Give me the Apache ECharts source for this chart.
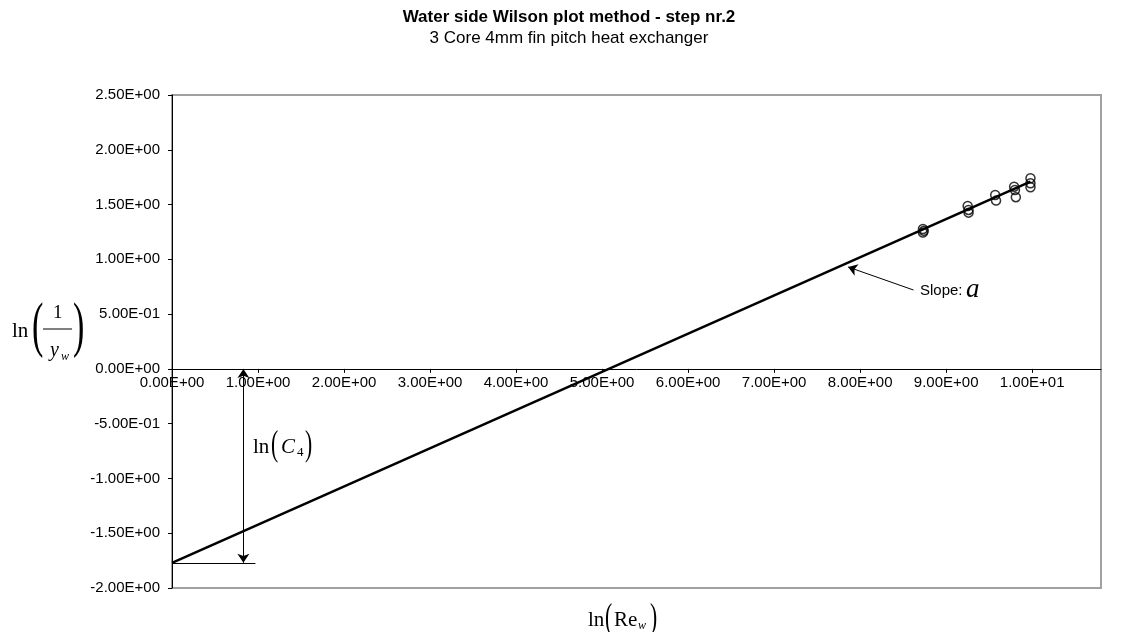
<!DOCTYPE html>
<html><head><meta charset="utf-8">
<script src="https://cdn.jsdelivr.net/npm/echarts@6/dist/echarts.min.js"></script>
<style>html,body{margin:0;padding:0;background:#fff}#c{width:1138px;height:632px}</style>
</head><body><div id="c"></div><script>
// ---- data ----
const titleText = 'Water side Wilson plot method - step nr.2';
const subtitleText = '3 Core 4mm fin pitch heat exchanger';
const xTickValues = [0, 1, 2, 3, 4, 5, 6, 7, 8, 9, 10];
const yTickValues = [-2, -1.5, -1, -0.5, 0, 0.5, 1, 1.5, 2, 2.5];
const lnRe   = [8.73, 8.73, 8.74, 9.25, 9.26, 9.26, 9.57, 9.58, 9.79, 9.80, 9.81, 9.98, 9.98, 9.98];
const lnInvY = [1.277, 1.244, 1.26, 1.487, 1.451, 1.426, 1.588, 1.536, 1.663, 1.633, 1.567, 1.74, 1.694, 1.658];
const fitX = [0, 9.98];
const fitY = [-1.77, 1.71];
const c4ArrowX = 0.83;
const c4ArrowY = [0, -1.77];
const c4BaseX = [0, 0.97];
const slopeArrowFrom = [8.62, 0.72];
const slopeArrowTo = [7.86, 0.93];

function sci(v) {
  if (Math.abs(v) < 1e-12) return '0.00E+00';
  let e = Math.floor(Math.log10(Math.abs(v)) + 1e-9);
  let ms = (v / Math.pow(10, e)).toFixed(2);
  if (Math.abs(parseFloat(ms)) >= 10) { e += 1; ms = (v / Math.pow(10, e)).toFixed(2); }
  const es = (e < 0 ? '-' : '+') + String(Math.abs(e)).padStart(2, '0');
  return ms + 'E' + es;
}
function isTick(v, arr) { return arr.some(t => Math.abs(t - v) < 1e-6); }

const chart = echarts.init(document.getElementById('c'));
const serif = "'Liberation Serif', 'Times New Roman', serif";
const sans = "'Liberation Sans', Arial, sans-serif";
function txt(text, x, y, size, opts) {
  opts = opts || {};
  return {
    type: 'text', x: x, y: y, scaleX: opts.sx || 1, scaleY: opts.sy || 1, silent: true, z: 10,
    style: {
      text: text, fill: '#000',
      font: (opts.italic ? 'italic ' : '') + size + 'px ' + (opts.family || serif),
      textAlign: 'left', textVerticalAlign: 'middle'
    }
  };
}
function line(x1, y1, x2, y2) {
  return { type: 'line', silent: true, shape: { x1: x1, y1: y1, x2: x2, y2: y2 }, style: { stroke: '#000', lineWidth: 1 } };
}

const graphics = [
  // y-axis label: ln(1/y_w)
  txt('ln', 12, 331, 21),
  txt('(', 32, 329, 62, { sx: 0.55 }),
  txt('1', 53, 313, 19),
  line(43, 329, 72, 329),
  txt('y', 50, 351, 20, { italic: true }),
  txt('w', 61, 357, 12, { italic: true }),
  txt(')', 73, 329, 62, { sx: 0.55 }),
  // x-axis label: ln(Re_w)
  txt('ln', 588, 620, 21),
  txt('(', 605, 619, 36, { sx: 0.6 }),
  txt('Re', 614, 620, 21),
  txt('w', 638, 626, 12, { italic: true }),
  txt(')', 650, 619, 36, { sx: 0.6 }),
  // ln(C4)
  txt('ln', 253, 447, 21),
  txt('(', 271, 446, 36, { sx: 0.6 }),
  txt('C', 281, 447, 21, { italic: true }),
  txt('4', 297, 453, 13),
  txt(')', 305, 446, 36, { sx: 0.6 }),
  // Slope: a
  txt('Slope: ', 920, 291, 15, { family: sans }),
  txt('a', 966, 290, 27, { italic: true })
];

const gridBottom = 44;
chart.setOption({
  animation: false,
  backgroundColor: '#fff',
  title: {
    text: titleText, subtext: subtitleText, left: 'center', top: 4, itemGap: 4,
    textStyle: { fontFamily: sans, fontSize: 17, fontWeight: 'bold', color: '#000' },
    subtextStyle: { fontFamily: sans, fontSize: 17, color: '#000' }
  },
  grid: { left: 172, right: 37, top: 95, bottom: gridBottom, show: true, borderColor: '#a0a0a0', borderWidth: 2, backgroundColor: 'transparent' },
  xAxis: {
    type: 'value', min: 0, max: 10.8, interval: 1, position: 'bottom', offset: 0,
    axisLine: { onZero: false, lineStyle: { color: '#000', width: 1 } },
    axisTick: { show: true, length: 4, lineStyle: { color: '#000' } },
    splitLine: { show: false },
    axisLabel: {
      color: '#000', fontFamily: sans, fontSize: 15, margin: 6,
      showMaxLabel: false,
      formatter: v => isTick(v, xTickValues) ? sci(v) : ''
    }
  },
  yAxis: {
    type: 'value', min: -2, max: 2.5, interval: 0.5,
    axisLine: { onZero: false, lineStyle: { color: '#000', width: 1 } },
    axisTick: { show: true, length: 4, lineStyle: { color: '#000' } },
    splitLine: { show: false },
    axisLabel: {
      color: '#000', fontFamily: sans, fontSize: 15, margin: 12,
      formatter: v => isTick(v, yTickValues) ? sci(v) : ''
    }
  },
  graphic: graphics,
  series: [
    {
      type: 'line', data: fitX.map((x, i) => [x, fitY[i]]), showSymbol: false, symbol: 'none',
      lineStyle: { color: '#000', width: 2.5 }, z: 2,
      markLine: {
        silent: true, animation: false, symbolSize: 9,
        label: { show: false },
        lineStyle: { color: '#000', width: 1, type: 'solid' },
        data: [
          [{ coord: [c4ArrowX, c4ArrowY[0]], symbol: 'arrow' }, { coord: [c4ArrowX, c4ArrowY[1]], symbol: 'arrow' }],
          [{ coord: [c4BaseX[0], fitY[0]], symbol: 'none' }, { coord: [c4BaseX[1], fitY[0]], symbol: 'none' }],
          [{ coord: slopeArrowFrom, symbol: 'none' }, { coord: slopeArrowTo, symbol: 'arrow' }]
        ]
      }
    },
    {
      type: 'scatter', data: lnRe.map((x, i) => [x, lnInvY[i]]), symbol: 'circle', symbolSize: 9, z: 3,
      itemStyle: { color: 'rgba(255,255,255,0)', borderColor: '#000', borderWidth: 1.5 }
    }
  ]
});
// move the x axis (line, ticks, labels) onto y = 0, as in the reference
const zeroPx = chart.convertToPixel({ yAxisIndex: 0 }, 0);
const bottomPx = chart.getHeight() - gridBottom;
chart.setOption({ xAxis: { offset: zeroPx - bottomPx } });
</script></body></html>
